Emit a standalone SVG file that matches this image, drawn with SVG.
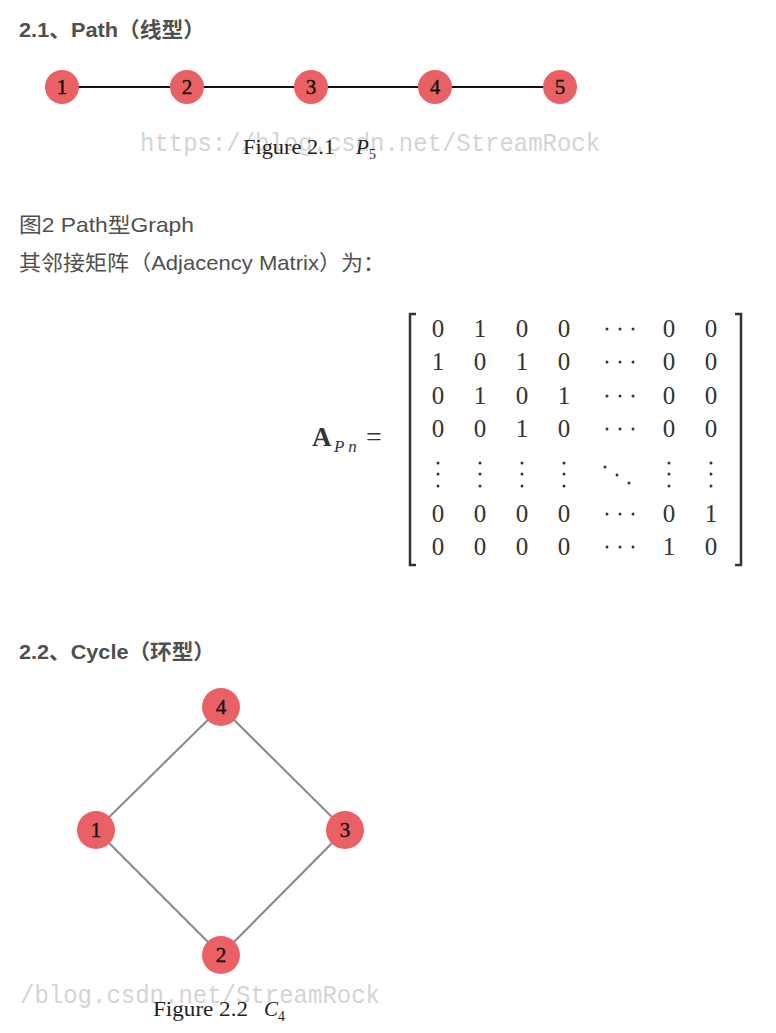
<svg xmlns="http://www.w3.org/2000/svg" width="776" height="1033" viewBox="0 0 776 1033">
<style>
.h{font-family:"Liberation Sans","Noto Sans CJK SC",sans-serif;font-weight:bold;font-size:21px;fill:#4f4f4f}
.t{font-family:"Liberation Sans","Noto Sans CJK SC",sans-serif;font-size:21px;fill:#4f4f4f}
.node circle{fill:#e96165}
.lbl{font-family:"Liberation Serif",serif;font-size:21px;fill:#111;stroke:#111;stroke-width:0.4;text-anchor:middle}
.cap{font-family:"Liberation Serif",serif;font-size:21px;fill:#222}
.sub{font-family:"Liberation Serif",serif;font-size:14px;fill:#222}
.wm{font-family:"Liberation Mono",monospace;font-size:25px;fill:#c8c8c8;fill-opacity:0.8}
.m{font-family:"Liberation Serif",serif;font-size:25px;fill:#333;text-anchor:middle}
.dot{fill:#333}
</style>
<rect width="776" height="1033" fill="#ffffff"/>
<text class="h" x="19" y="37" textLength="186" lengthAdjust="spacingAndGlyphs">2.1、Path（线型）</text>
<g id="connectors">
<line x1="62" y1="87" x2="560" y2="87" stroke="#111" stroke-width="2"/>
<g stroke="#888" stroke-width="2">
<line x1="221" y1="707" x2="96" y2="830"/>
<line x1="221" y1="707" x2="345" y2="830"/>
<line x1="96" y1="830" x2="221" y2="955"/>
<line x1="345" y1="830" x2="221" y2="955"/>
</g>
</g>
<g id="p1" class="node"><circle cx="62" cy="87" r="17"/><text class="lbl" x="62" y="94">1</text></g>
<g id="p2" class="node"><circle cx="187" cy="87" r="17"/><text class="lbl" x="187" y="94">2</text></g>
<g id="p3" class="node"><circle cx="311" cy="87" r="17"/><text class="lbl" x="311" y="94">3</text></g>
<g id="p4" class="node"><circle cx="435" cy="87" r="17"/><text class="lbl" x="435" y="94">4</text></g>
<g id="p5" class="node"><circle cx="560" cy="87" r="17"/><text class="lbl" x="560" y="94">5</text></g>
<text class="wm" x="140" y="151" textLength="460" lengthAdjust="spacingAndGlyphs">https://blog.csdn.net/StreamRock</text>
<text class="cap" x="243" y="154" textLength="92" lengthAdjust="spacingAndGlyphs">Figure 2.1</text>
<text class="cap" x="356" y="154" font-style="italic">P</text>
<text class="sub" x="369" y="159">5</text>
<text class="t" x="19" y="232" textLength="175" lengthAdjust="spacingAndGlyphs">图2 Path型Graph</text>
<text class="t" x="19" y="270" textLength="366" lengthAdjust="spacingAndGlyphs">其邻接矩阵（Adjacency Matrix）为：</text>
<g id="matrix">
<text x="312" y="446" font-family="Liberation Serif,serif" font-size="27" font-weight="bold" fill="#333">A</text>
<text x="334" y="452" font-family="Liberation Serif,serif" font-size="17" font-style="italic" fill="#333">P n</text>
<text x="366" y="446" font-family="Liberation Serif,serif" font-size="28" fill="#333">=</text>
<path d="M416 314 H410 V565 H416" fill="none" stroke="#333" stroke-width="2.5"/>
<path d="M735 314 H741 V565 H735" fill="none" stroke="#333" stroke-width="2.5"/>
<g class="m">
<text x="438" y="337">0</text><text x="480" y="337">1</text><text x="522" y="337">0</text><text x="564" y="337">0</text><text x="669" y="337">0</text><text x="711" y="337">0</text>
<text x="438" y="370">1</text><text x="480" y="370">0</text><text x="522" y="370">1</text><text x="564" y="370">0</text><text x="669" y="370">0</text><text x="711" y="370">0</text>
<text x="438" y="404">0</text><text x="480" y="404">1</text><text x="522" y="404">0</text><text x="564" y="404">1</text><text x="669" y="404">0</text><text x="711" y="404">0</text>
<text x="438" y="437">0</text><text x="480" y="437">0</text><text x="522" y="437">1</text><text x="564" y="437">0</text><text x="669" y="437">0</text><text x="711" y="437">0</text>
<text x="438" y="522">0</text><text x="480" y="522">0</text><text x="522" y="522">0</text><text x="564" y="522">0</text><text x="669" y="522">0</text><text x="711" y="522">1</text>
<text x="438" y="555">0</text><text x="480" y="555">0</text><text x="522" y="555">0</text><text x="564" y="555">0</text><text x="669" y="555">1</text><text x="711" y="555">0</text>
</g>
<g class="dot">
<circle cx="607" cy="329" r="1.5"/><circle cx="620" cy="329" r="1.5"/><circle cx="633" cy="329" r="1.5"/>
<circle cx="607" cy="362" r="1.5"/><circle cx="620" cy="362" r="1.5"/><circle cx="633" cy="362" r="1.5"/>
<circle cx="607" cy="396" r="1.5"/><circle cx="620" cy="396" r="1.5"/><circle cx="633" cy="396" r="1.5"/>
<circle cx="607" cy="429" r="1.5"/><circle cx="620" cy="429" r="1.5"/><circle cx="633" cy="429" r="1.5"/>
<circle cx="607" cy="514" r="1.5"/><circle cx="620" cy="514" r="1.5"/><circle cx="633" cy="514" r="1.5"/>
<circle cx="607" cy="547" r="1.5"/><circle cx="620" cy="547" r="1.5"/><circle cx="633" cy="547" r="1.5"/>
<circle cx="605" cy="467" r="1.5"/><circle cx="617" cy="475" r="1.5"/><circle cx="629" cy="483" r="1.5"/>
<circle cx="438" cy="463" r="1.5"/><circle cx="438" cy="474" r="1.5"/><circle cx="438" cy="486" r="1.5"/>
<circle cx="480" cy="463" r="1.5"/><circle cx="480" cy="474" r="1.5"/><circle cx="480" cy="486" r="1.5"/>
<circle cx="522" cy="463" r="1.5"/><circle cx="522" cy="474" r="1.5"/><circle cx="522" cy="486" r="1.5"/>
<circle cx="564" cy="463" r="1.5"/><circle cx="564" cy="474" r="1.5"/><circle cx="564" cy="486" r="1.5"/>
<circle cx="669" cy="463" r="1.5"/><circle cx="669" cy="474" r="1.5"/><circle cx="669" cy="486" r="1.5"/>
<circle cx="711" cy="463" r="1.5"/><circle cx="711" cy="474" r="1.5"/><circle cx="711" cy="486" r="1.5"/>
</g>
</g>
<text class="h" x="19" y="659" textLength="196" lengthAdjust="spacingAndGlyphs">2.2、Cycle（环型）</text>
<g id="c4" class="node"><circle cx="221" cy="707" r="19"/><text class="lbl" x="221" y="714">4</text></g>
<g id="c1" class="node"><circle cx="96" cy="830" r="19"/><text class="lbl" x="96" y="837">1</text></g>
<g id="c3" class="node"><circle cx="345" cy="830" r="19"/><text class="lbl" x="345" y="837">3</text></g>
<g id="c2" class="node"><circle cx="221" cy="955" r="19"/><text class="lbl" x="221" y="962">2</text></g>
<text class="wm" x="20" y="1003" textLength="360" lengthAdjust="spacingAndGlyphs">/blog.csdn.net/StreamRock</text>
<text class="cap" x="153" y="1016" textLength="95" lengthAdjust="spacingAndGlyphs">Figure 2.2</text>
<text class="cap" x="264" y="1016" font-style="italic">C</text>
<text class="sub" x="278" y="1021">4</text>
</svg>
